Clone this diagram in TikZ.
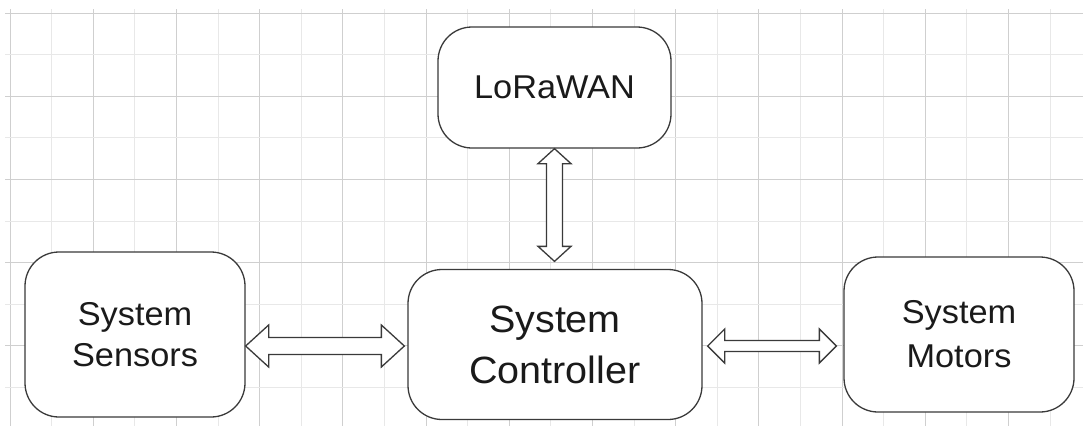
\documentclass[tikz,border=0pt]{standalone}
\usepackage{fontspec}
\setmainfont[FakeStretch=1.04]{Liberation Sans}
\usetikzlibrary{calc}
\definecolor{gmaj}{HTML}{CFCFCF}
\definecolor{gmin}{HTML}{E8E8E8}
\definecolor{edge}{HTML}{3A3A3A}
\definecolor{ink}{HTML}{1A1A1A}
\tikzset{
  box/.style={draw=edge, line width=1.3pt, fill=white, rounded corners=34pt, inner sep=0pt, align=center, text=ink},
  blk/.style={draw=edge, line width=1.3pt, fill=white, line join=miter},
  smallfont/.style={font=\fontsize{33}{42}\selectfont},
}
% horizontal block arrow: start, end, shaft half, head half, head length
\newcommand\hblk[5]{%
  \draw[blk] let \p1=(#1), \p2=(#2) in
    (\x1,\y1) -- (\x1+#5pt,\y1+#4pt) -- (\x1+#5pt,\y1+#3pt) -- (\x2-#5pt,\y1+#3pt) -- (\x2-#5pt,\y1+#4pt) -- (\x2,\y1)
    -- (\x2-#5pt,\y1-#4pt) -- (\x2-#5pt,\y1-#3pt) -- (\x1+#5pt,\y1-#3pt) -- (\x1+#5pt,\y1-#4pt) -- cycle;}
% vertical block arrow (start above end in canvas)
\newcommand\vblk[5]{%
  \draw[blk] let \p1=(#1), \p2=(#2) in
    (\x1,\y1) -- (\x1+#4pt,\y1-#5pt) -- (\x1+#3pt,\y1-#5pt) -- (\x1+#3pt,\y2+#5pt) -- (\x1+#4pt,\y2+#5pt) -- (\x1,\y2)
    -- (\x1-#4pt,\y2+#5pt) -- (\x1-#3pt,\y2+#5pt) -- (\x1-#3pt,\y1-#5pt) -- (\x1-#4pt,\y1-#5pt) -- cycle;}
\begin{document}
\begin{tikzpicture}[x=1pt,y=-1pt]
\useasboundingbox (0,0) rectangle (1083,426);
\fill[white] (0,0) rectangle (1083,426);
% grid
\foreach \i in {0,...,25} {
  \pgfmathsetmacro\gx{10+41.6*\i}
  \pgfmathtruncatemacro\odd{mod(\i,2)}
  \ifnum\odd=0 \draw[gmaj, line width=1pt] (\gx,9) -- (\gx,426); \else \draw[gmin, line width=1pt] (\gx,9) -- (\gx,426); \fi
}
\foreach \j in {0,...,9} {
  \pgfmathsetmacro\gy{13+41.6*\j}
  \pgfmathtruncatemacro\odd{mod(\j,2)}
  \ifnum\odd=0 \draw[gmaj, line width=1pt] (5,\gy) -- (1083,\gy); \else \draw[gmin, line width=1pt] (5,\gy) -- (1083,\gy); \fi
}
% boxes
\node[box, smallfont, minimum width=233pt, minimum height=121pt] (lora) at (554.5,87.5) {LoRaWAN};
\node[box, font=\fontsize{38}{51}\selectfont, minimum width=294pt, minimum height=150pt] (ctrl) at (555,344.5) {System\\Controller};
\node[box, font=\fontsize{33}{41}\selectfont, minimum width=220pt, minimum height=165pt] (sens) at (135,334.5) {System\\Sensors};
\node[box, font=\fontsize{33}{44}\selectfont, minimum width=230pt, minimum height=155pt] (mot) at (959,334.5) {System\\Motors};
% block arrows
\hblk{$(sens.east)+(0,11.5)$}{$(ctrl.west)+(-3,0)$}{8.5}{21}{23}
\hblk{$(ctrl.east)+(5,1.5)$}{$(mot.west)+(-7,0)$}{5.5}{17}{17}
\vblk{lora.south}{$(ctrl.north)+(0,-7.5)$}{8}{16.5}{15}
\end{tikzpicture}
\end{document}
